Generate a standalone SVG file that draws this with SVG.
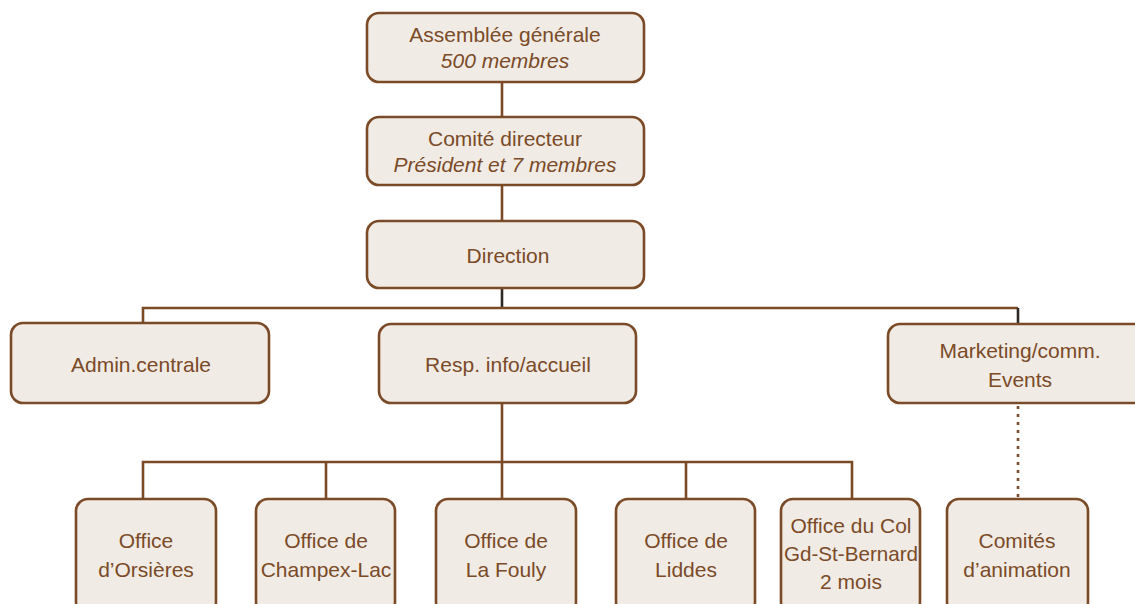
<svg xmlns="http://www.w3.org/2000/svg" width="1135" height="604" viewBox="0 0 1135 604">
<style>
.box{fill:#f0ece5;stroke:#7b4a27;stroke-width:2.6}
.t{font-family:"Liberation Sans",Arial,sans-serif;font-size:21px;fill:#7b4a27;text-anchor:middle}
.i{font-style:italic}
.c{fill:none;stroke:#7b4a27;stroke-width:2.6}
.d{fill:none;stroke:#2e2a26;stroke-width:2.6}
.dot{fill:none;stroke:#7b4a27;stroke-width:2.6;stroke-dasharray:3 5}
</style>
<rect width="1135" height="604" fill="#ffffff"/>
<g id="connectors">
<line class="c" x1="502" y1="82" x2="502" y2="117"/>
<line class="c" x1="502" y1="185" x2="502" y2="221"/>
<line class="d" x1="502" y1="288" x2="502" y2="308"/>
<polyline class="c" points="143,323 143,308 1018,308"/>
<line class="d" x1="1018" y1="308" x2="1018" y2="324"/>
<line class="c" x1="502" y1="403" x2="502" y2="462"/>
<polyline class="c" points="143,499 143,462 852,462 852,499"/>
<line class="c" x1="326" y1="462" x2="326" y2="499"/>
<line class="c" x1="502" y1="462" x2="502" y2="499"/>
<line class="c" x1="686" y1="462" x2="686" y2="499"/>
<line class="dot" x1="1018" y1="406" x2="1018" y2="497"/>
</g>
<g id="assemblee">
<rect class="box" x="367" y="13" width="277" height="69" rx="12"/>
<text class="t" x="505" y="42">Assemblée générale</text>
<text class="t i" x="505" y="68">500 membres</text>
</g>
<g id="comite">
<rect class="box" x="367" y="117" width="277" height="68" rx="12"/>
<text class="t" x="505" y="146">Comité directeur</text>
<text class="t i" x="505" y="172">Président et 7 membres</text>
</g>
<g id="direction">
<rect class="box" x="367" y="221" width="277" height="67" rx="12"/>
<text class="t" x="508" y="263">Direction</text>
</g>
<g id="admin">
<rect class="box" x="11" y="323" width="258" height="80" rx="12"/>
<text class="t" x="141" y="372">Admin.centrale</text>
</g>
<g id="resp">
<rect class="box" x="379" y="324" width="257" height="79" rx="12"/>
<text class="t" x="508" y="372">Resp. info/accueil</text>
</g>
<g id="marketing">
<rect class="box" x="888" y="324" width="260" height="79" rx="12"/>
<text class="t" x="1020" y="358">Marketing/comm.</text>
<text class="t" x="1020" y="387">Events</text>
</g>
<g id="orsieres">
<rect class="box" x="76" y="499" width="140" height="115" rx="12"/>
<text class="t" x="146" y="548">Office</text>
<text class="t" x="146" y="577">d’Orsières</text>
</g>
<g id="champex">
<rect class="box" x="256" y="499" width="139" height="115" rx="12"/>
<text class="t" x="326" y="548">Office de</text>
<text class="t" x="326" y="577">Champex-Lac</text>
</g>
<g id="lafouly">
<rect class="box" x="436" y="499" width="140" height="115" rx="12"/>
<text class="t" x="506" y="548">Office de</text>
<text class="t" x="506" y="577">La Fouly</text>
</g>
<g id="liddes">
<rect class="box" x="616" y="499" width="139" height="115" rx="12"/>
<text class="t" x="686" y="548">Office de</text>
<text class="t" x="686" y="577">Liddes</text>
</g>
<g id="col">
<rect class="box" x="781" y="499" width="139" height="115" rx="12"/>
<text class="t" x="851" y="533">Office du Col</text>
<text class="t" x="851" y="561" textLength="134" lengthAdjust="spacingAndGlyphs">Gd-St-Bernard</text>
<text class="t" x="851" y="589">2 mois</text>
</g>
<g id="comites">
<rect class="box" x="947" y="499" width="141" height="115" rx="12"/>
<text class="t" x="1017" y="548">Comités</text>
<text class="t" x="1017" y="577">d’animation</text>
</g>
</svg>
